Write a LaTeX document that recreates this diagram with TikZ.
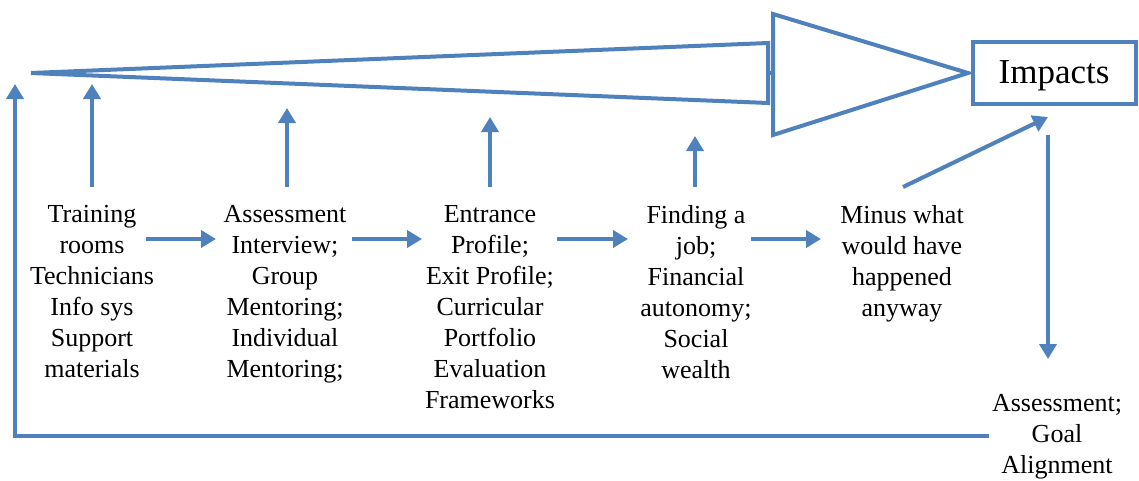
\documentclass[tikz,border=0pt]{standalone}
\usepackage{fontspec}
\setmainfont{Liberation Serif}
\newfontfamily\chainfont{Liberation Serif}
\usetikzlibrary{arrows.meta}
\definecolor{flow}{HTML}{4F81BD}
\tikzset{
  link/.style={draw=flow,line width=4pt,-{Triangle[length=15pt,width=17pt]}},
  outline/.style={draw=flow,line width=4pt,line join=miter},
  stage/.style={align=center,inner sep=0pt,anchor=north,font=\chainfont\fontsize{26}{31}\selectfont},
}
\begin{document}
\begin{tikzpicture}[x=1pt,y=-1pt]
\useasboundingbox (0,0) rectangle (1139,480);

% stages of the chain
\node[stage] (inputs)   at (92,205)   {Training\\rooms\\Technicians\\Info sys\\Support\\materials};
\node[stage] (activity) at (285,205)  {Assessment\\Interview;\\Group\\Mentoring;\\Individual\\Mentoring;};
\node[stage] (outputs)  at (490,205)  {Entrance\\Profile;\\Exit Profile;\\Curricular\\Portfolio\\Evaluation\\Frameworks};
\node[stage] (outcomes) at (696,205)  {Finding a\\job;\\Financial\\autonomy;\\Social\\wealth};
\node[stage] (minus)    at (902,205)  {Minus what\\would have\\happened\\anyway};
\node[stage] (review)   at (1057,394) {Assessment;\\Goal\\Alignment};

\node[draw=flow,line width=4pt,minimum width=163pt,minimum height=62pt,
      text depth=0pt,font=\chainfont\fontsize{35}{40}\selectfont] (impacts) at (1054,72.5) {Impacts};

% converging wedge and arrow head
\coordinate (wtip) at (31,73);
\coordinate (wtop) at (768,43);
\coordinate (wbot) at (768,103);
\coordinate (htop) at (773,14);
\coordinate (hbot) at (773,135);
\coordinate (happ) at (968,73);
\draw[outline] (wtip) -- (wtop) -- (wbot) -- cycle;
\draw[outline] (768,73) -- (773,73);
\draw[outline] (htop) -- (happ) -- (hbot) -- cycle;

% contributions into the wedge
\coordinate (u1a) at (92,187);  \coordinate (u1b) at (92,84);
\coordinate (u2a) at (287,187); \coordinate (u2b) at (287,108);
\coordinate (u3a) at (490,187); \coordinate (u3b) at (490,117);
\coordinate (u4a) at (695,187); \coordinate (u4b) at (695,136);
\draw[link] (u1a) -- (u1b);
\draw[link] (u2a) -- (u2b);
\draw[link] (u3a) -- (u3b);
\draw[link] (u4a) -- (u4b);

% horizontal flow between stages
\coordinate (h1a) at (146,239); \coordinate (h1b) at (216,239);
\coordinate (h2a) at (352,239); \coordinate (h2b) at (422,239);
\coordinate (h3a) at (557,239); \coordinate (h3b) at (628,239);
\coordinate (h4a) at (751,239); \coordinate (h4b) at (821,239);
\draw[link] (h1a) -- (h1b);
\draw[link] (h2a) -- (h2b);
\draw[link] (h3a) -- (h3b);
\draw[link] (h4a) -- (h4b);

% counterfactual and review
\coordinate (d1a) at (903,187); \coordinate (d1b) at (1048,117);
\coordinate (d2a) at (1048,135); \coordinate (d2b) at (1048,359);
\draw[link] (d1a) -- (d1b);
\draw[link] (d2a) -- (d2b);

% feedback loop
\coordinate (fa) at (989,436);
\coordinate (fc) at (15,436);
\coordinate (fb) at (15,84);
\draw[link] (fa) -- (fc) -- (fb);
\end{tikzpicture}
\end{document}
